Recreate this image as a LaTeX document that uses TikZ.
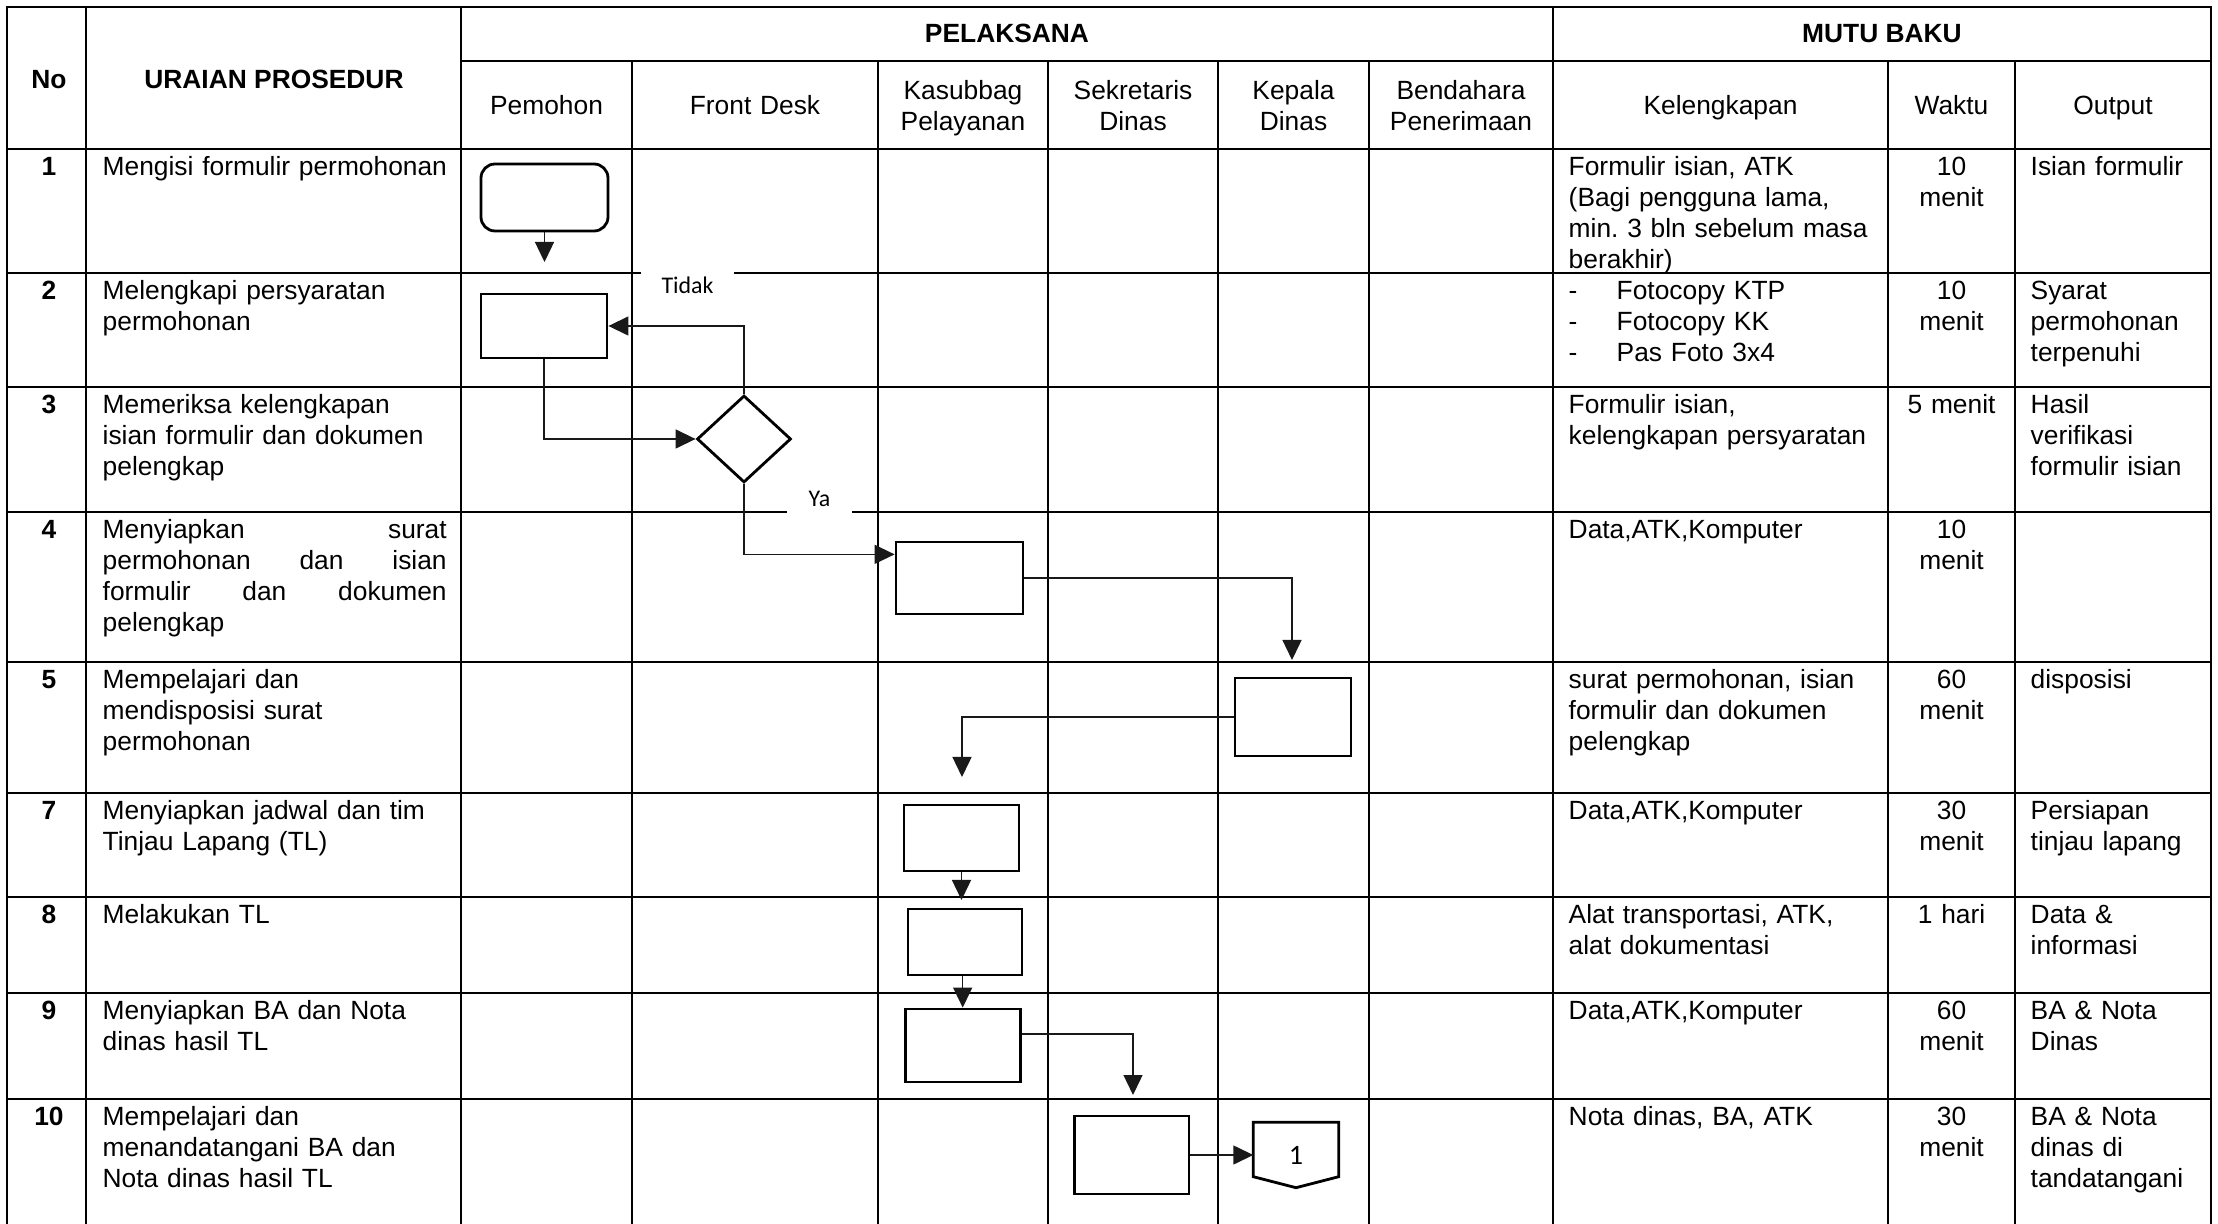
\documentclass[tikz,border=0pt]{standalone}
\usepackage{fontspec}
\setmainfont{Liberation Sans}
\newfontfamily\labelfont{Carlito}
\usetikzlibrary{shapes.geometric, arrows.meta, calc}
\frenchspacing

\begin{document}
\begin{tikzpicture}[x=0.1mm, y=-0.1mm,
  tbl/.style={line width=0.7pt},
  box/.style={draw, line width=0.8pt, inner sep=0pt},
  flow/.style={-{Triangle[length=2mm,width=1.9mm]}, line width=0.4pt, draw=black!90},
  hd/.style={font=\fontsize{7.5pt}{8.8pt}\selectfont\bfseries, inner sep=0pt, anchor=base},
  sub/.style={font=\fontsize{7.5pt}{8.8pt}\selectfont, inner sep=0pt, anchor=base, align=center, text width=18mm},
  num/.style={font=\fontsize{7.5pt}{8.8pt}\selectfont\bfseries, inner sep=0pt, anchor=base, align=center, text width=7mm},
  cell/.style={font=\fontsize{7.5pt}{8.8pt}\selectfont, inner sep=0pt, anchor=base west, align=left},
  wkt/.style={font=\fontsize{7.5pt}{8.8pt}\selectfont, inner sep=0pt, anchor=base, align=center, text width=12mm},
  tag/.style={font=\labelfont\fontsize{6.8pt}{8pt}\selectfont, fill=white, inner sep=0pt, minimum height=3.4mm}]
\useasboundingbox (0,0) rectangle (2218,1224);
%\draw[help lines, color=gray!30] (0,0) grid[step=1cm] (2218,1224);

% table frame
\draw [tbl] (7,1224) -- (7,7) -- (2211,7) -- (2211,1224);
\draw [tbl] (86,7) -- (86,1224);
\draw [tbl] (461,7) -- (461,1224);
\draw [tbl] (1553,7) -- (1553,1224);
\draw [tbl] (461,61) -- (2211,61);
\draw [tbl] (632,61) -- (632,1224);
\draw [tbl] (878,61) -- (878,1224);
\draw [tbl] (1048,61) -- (1048,1224);
\draw [tbl] (1218,61) -- (1218,1224);
\draw [tbl] (1369,61) -- (1369,1224);
\draw [tbl] (1888,61) -- (1888,1224);
\draw [tbl] (2015,61) -- (2015,1224);
\draw [tbl] (7,149) -- (2211,149);
\draw [tbl] (7,273) -- (2211,273);
\draw [tbl] (7,387) -- (2211,387);
\draw [tbl] (7,512) -- (2211,512);
\draw [tbl] (7,662) -- (2211,662);
\draw [tbl] (7,793) -- (2211,793);
\draw [tbl] (7,897) -- (2211,897);
\draw [tbl] (7,993) -- (2211,993);
\draw [tbl] (7,1099) -- (2211,1099);

% headers
\node [hd] (h_no) at (49,89) {No};
\node [hd] (h_uraian) at (274,89) {URAIAN PROSEDUR};
\node [hd] (h_pelaksana) at (1007,43) {PELAKSANA};
\node [hd] (h_mutu) at (1882,43) {MUTU BAKU};
\node [sub] (h_pemohon) at (546.5,115) {Pemohon};
\node [sub] (h_front) at (755,115) {Front Desk};
\node [sub] (h_kasubbag) at (963,100) {Kasubbag\\Pelayanan};
\node [sub] (h_sekretaris) at (1133,100) {Sekretaris\\Dinas};
\node [sub] (h_kepala) at (1293.5,100) {Kepala\\Dinas};
\node [sub] (h_bendahara) at (1461,100) {Bendahara\\Penerimaan};
\node [sub] (h_kel) at (1720.5,115) {Kelengkapan};
\node [sub] (h_waktu) at (1951.5,115) {Waktu};
\node [sub] (h_output) at (2113,115) {Output};

% row 1
\node [num] (no1) at (49,175.5) {1};
\node [cell, text width=35.5mm] (urai1) at (102,175.5) {Mengisi formulir permohonan};
\node [cell, text width=31.5mm] (kel1) at (1568,175.5) {Formulir isian, ATK\\(Bagi pengguna lama,\\min. 3 bln sebelum masa\\berakhir)};
\node [wkt] (wkt1) at (1951.5,175.5) {10\\menit};
\node [cell, text width=17.5mm] (out1) at (2030,175.5) {Isian formulir};

% row 2
\node [num] (no2) at (49,299.5) {2};
\node [cell, text width=35.5mm] (urai2) at (102,299.5) {Melengkapi persyaratan\\permohonan};
\node [cell, text width=31.5mm] (kel2) at (1568,299.5) {\makebox[4.8mm][l]{-}Fotocopy KTP\\\makebox[4.8mm][l]{-}Fotocopy KK\\\makebox[4.8mm][l]{-}Pas Foto 3x4};
\node [wkt] (wkt2) at (1951.5,299.5) {10\\menit};
\node [cell, text width=17.5mm] (out2) at (2030,299.5) {Syarat\\permohonan\\terpenuhi};

% row 3
\node [num] (no3) at (49,413.5) {3};
\node [cell, text width=35.5mm] (urai3) at (102,413.5) {Memeriksa kelengkapan\\isian formulir dan dokumen\\pelengkap};
\node [cell, text width=31.5mm] (kel3) at (1568,413.5) {Formulir isian,\\kelengkapan persyaratan};
\node [wkt] (wkt3) at (1951.5,413.5) {5 menit};
\node [cell, text width=17.5mm] (out3) at (2030,413.5) {Hasil\\verifikasi\\formulir isian};

% row 4
\node [num] (no4) at (49,538.5) {4};
\node [cell, text width=34.4mm, align=justify] (urai4) at (102,538.5) {Menyiapkan surat\linebreak permohonan dan isian\linebreak formulir dan dokumen\linebreak pelengkap};
\node [cell, text width=31.5mm] (kel4) at (1568,538.5) {Data,ATK,Komputer};
\node [wkt] (wkt4) at (1951.5,538.5) {10\\menit};

% row 5
\node [num] (no5) at (49,688.5) {5};
\node [cell, text width=35.5mm] (urai5) at (102,688.5) {Mempelajari dan\\mendisposisi surat\\permohonan};
\node [cell, text width=31.5mm] (kel5) at (1568,688.5) {surat permohonan, isian\\formulir dan dokumen\\pelengkap};
\node [wkt] (wkt5) at (1951.5,688.5) {60\\menit};
\node [cell, text width=17.5mm] (out5) at (2030,688.5) {disposisi};

% row 7
\node [num] (no7) at (49,819.5) {7};
\node [cell, text width=35.5mm] (urai7) at (102,819.5) {Menyiapkan jadwal dan tim\\Tinjau Lapang (TL)};
\node [cell, text width=31.5mm] (kel7) at (1568,819.5) {Data,ATK,Komputer};
\node [wkt] (wkt7) at (1951.5,819.5) {30\\menit};
\node [cell, text width=17.5mm] (out7) at (2030,819.5) {Persiapan\\tinjau lapang};

% row 8
\node [num] (no8) at (49,923.5) {8};
\node [cell, text width=35.5mm] (urai8) at (102,923.5) {Melakukan TL};
\node [cell, text width=31.5mm] (kel8) at (1568,923.5) {Alat transportasi, ATK,\\alat dokumentasi};
\node [wkt] (wkt8) at (1951.5,923.5) {1 hari};
\node [cell, text width=17.5mm] (out8) at (2030,923.5) {Data \&\\informasi};

% row 9
\node [num] (no9) at (49,1019.5) {9};
\node [cell, text width=35.5mm] (urai9) at (102,1019.5) {Menyiapkan BA dan Nota\\dinas hasil TL};
\node [cell, text width=31.5mm] (kel9) at (1568,1019.5) {Data,ATK,Komputer};
\node [wkt] (wkt9) at (1951.5,1019.5) {60\\menit};
\node [cell, text width=17.5mm] (out9) at (2030,1019.5) {BA \& Nota\\Dinas};

% row 10
\node [num] (no10) at (49,1125.5) {10};
\node [cell, text width=35.5mm] (urai10) at (102,1125.5) {Mempelajari dan\\menandatangani BA dan\\Nota dinas hasil TL};
\node [cell, text width=31.5mm] (kel10) at (1568,1125.5) {Nota dinas, BA, ATK};
\node [wkt] (wkt10) at (1951.5,1125.5) {30\\menit};
\node [cell, text width=17.5mm] (out10) at (2030,1125.5) {BA \& Nota\\dinas di\\tandatangani};

% decision labels
\node [tag, minimum width=9.3mm] (tidak) at (687.5,285) {Tidak};
\node [tag, minimum width=6.5mm] (ya) at (819.5,499) {Ya};

% flow symbols
\node [box, rounded corners=1.4mm, minimum width=12.7mm, minimum height=6.7mm] (b1) at (544.5,197.5) {};
\node [box, minimum width=12.6mm, minimum height=6.4mm] (b2) at (544,326) {};
\node [box, diamond, minimum width=9.4mm, minimum height=8.7mm] (d3) at (744,439) {};
\node [box, minimum width=12.7mm, minimum height=7.2mm] (b4) at (959.5,578) {};
\node [box, minimum width=11.6mm, minimum height=7.8mm] (b5) at (1293,717) {};
\node [box, minimum width=11.5mm, minimum height=6.6mm] (b7) at (961.5,838) {};
\node [box, minimum width=11.4mm, minimum height=6.6mm] (b8) at (965,942) {};
\node [box, minimum width=11.5mm, minimum height=7.3mm] (b9) at (962.7,1045.5) {};
\node [box, minimum width=11.45mm, minimum height=7.8mm] (b10) at (1131.7,1155) {};
\node [inner sep=0pt, minimum width=8.4mm, minimum height=6.4mm, font=\labelfont\fontsize{8pt}{9pt}\selectfont] (c1) at (1296,1155) {1};
\draw [line width=0.8pt] (c1.north west) -- (c1.north east) -- ($(c1.south east)+(0,-11)$) -- (c1.south) -- ($(c1.south west)+(0,-11)$) -- cycle;

% loose arrow ends
\coordinate (a1) at (544.5,262);
\coordinate (a4) at (1292,660);
\coordinate (a5) at (962,777);
\coordinate (a7) at (961.5,900);
\coordinate (a9) at (1133,1095);

% connectors
\draw [flow] (b1) -- (a1);
\draw [flow] (d3.north) |- (b2.east);
\draw [flow] (b2.south) |- (d3.west);
\draw [flow] (d3.south) |- (b4.160);
\draw [flow] (b4.east) -| (a4);
\draw [flow] (b5.west) -| (a5);
\draw [flow] (b7) -- (a7);
\draw [flow] (b9.north |- b8.south) -- (b9.north);
\draw [flow] (b9.11) -| (a9);
\draw [flow] (b10.east) -- (c1.west);
\end{tikzpicture}
\end{document}
